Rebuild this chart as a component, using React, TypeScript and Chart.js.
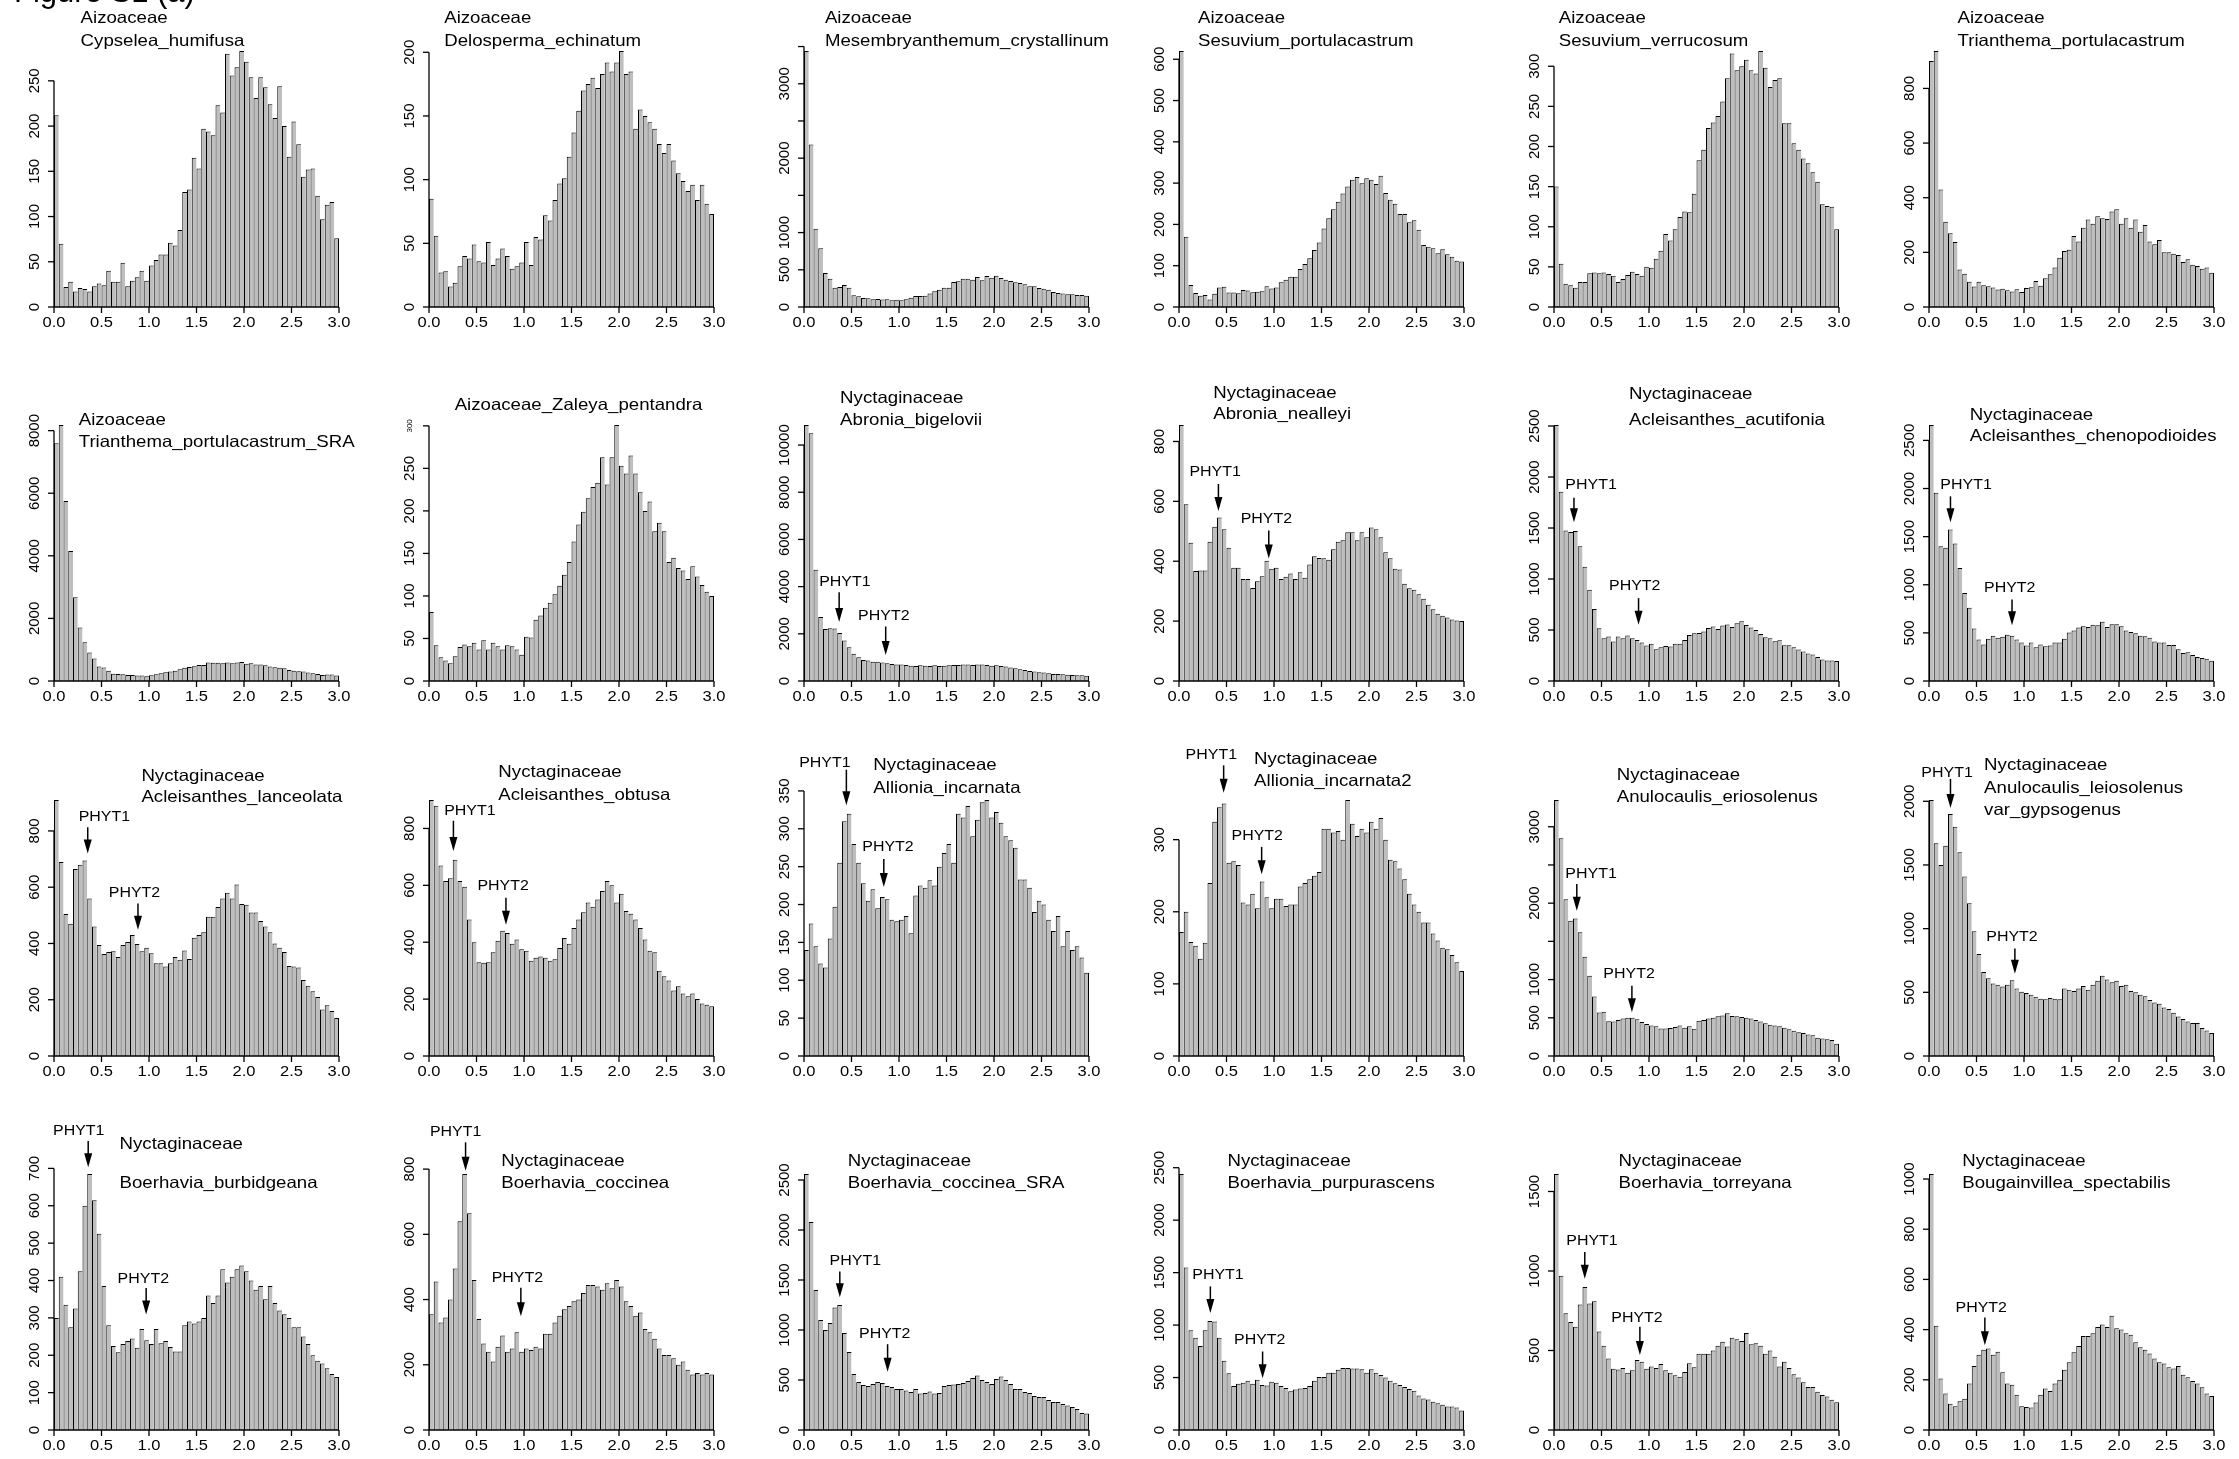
import React, { useEffect, useRef } from "react";
import { Chart, registerables } from "chart.js";

Chart.register(...registerables);

// ---------------- categories / ticks ----------------
const binCenters = Array.from({ length: 60 }, (_, i) => Math.round((i * 0.05 + 0.025) * 1000) / 1000);
const xTickValues = [0, 0.5, 1, 1.5, 2, 2.5, 3];
const xTickLabels = ["0.0", "0.5", "1.0", "1.5", "2.0", "2.5", "3.0"];

// ---------------- series values (counts per bin) ----------------
const cypseleaHumifusa = [212,70,22,28,17,21,20,17,23,26, 24,40,28,28,49,23,29,33,40,29, 46,52,58,58,71,68,85,127,130,165, 153,197,194,190,223,215,280,256,265,283, 271,254,231,254,243,224,209,244,200,166, 205,180,144,152,153,123,97,113,116,76];
const delospermaEchinatum = [85,56,27,28,16,19,32,40,38,49, 36,35,51,33,38,46,40,30,32,35, 51,33,55,53,72,68,84,97,101,118, 137,154,170,175,180,172,183,192,185,192, 201,183,185,140,155,150,145,140,128,121, 128,115,105,99,91,96,84,96,81,73];
const mesembryanthemumCrystallinum = [3440,2185,1050,790,457,380,260,270,295,260, 157,143,120,116,103,107,100,103,90,98, 90,103,125,148,148,152,180,210,233,260, 260,336,345,380,380,367,403,358,416,394, 420,390,367,350,331,322,305,278,278,255, 246,233,202,188,180,170,170,161,161,152];
const sesuviumPortulacastrum = [620,170,53,34,27,29,18,32,47,49, 35,35,33,41,40,36,37,38,50,45, 47,60,66,73,73,92,104,118,138,156, 190,215,237,255,275,292,308,315,300,312, 308,298,318,276,260,250,225,225,205,210, 187,150,146,142,130,140,128,122,112,110];
const sesuviumVerrucosum = [150,54,29,27,24,31,31,42,43,42, 43,41,39,31,35,40,44,41,39,50, 49,60,70,91,83,97,112,119,118,141, 183,196,223,230,238,256,285,316,295,300, 308,295,291,319,298,274,283,285,229,229, 204,196,185,179,168,156,128,126,125,97];
const trianthemaPortulacastrum = [900,937,430,312,270,238,137,122,92,75, 92,80,76,71,64,67,61,57,65,55, 70,72,95,78,105,120,145,180,205,210, 260,240,290,320,305,332,325,322,350,358, 305,325,290,320,275,300,240,230,245,200, 200,195,190,165,175,155,150,140,145,125];
const trianthemaSRA = [7600,8180,5750,4150,2680,1710,1240,910,720,460, 430,330,235,225,215,195,195,175,175,150, 180,215,245,280,300,330,375,420,450,470, 515,515,590,580,580,570,590,570,590,610, 550,570,525,525,505,460,440,420,410,355, 330,310,300,270,245,225,195,205,205,175];
const zaleyaPentandra = [81,42,28,24,21,29,40,43,41,45, 37,48,37,45,41,37,42,41,37,31, 52,51,72,77,86,92,102,112,125,140, 164,184,199,215,228,233,263,231,263,301, 253,244,265,244,222,200,211,176,186,176, 140,145,133,130,120,135,123,113,105,100];
const abroniaBigelovii = [10850,10500,4720,2710,2200,2240,2230,2030,1720,1430, 1150,1010,895,865,820,820,780,750,720,695, 695,680,650,640,665,650,640,665,640,650, 665,680,680,695,695,680,695,695,680,650, 665,640,610,570,540,495,470,425,400,370, 355,325,300,300,285,270,255,240,240,225];
const abroniaNealleyi = [855,590,462,367,369,369,465,515,546,507, 445,378,378,341,341,311,333,350,402,375, 378,341,348,359,341,363,345,389,417,411, 410,405,440,465,470,497,497,470,497,480, 513,507,480,430,410,375,372,325,310,305, 290,275,255,240,225,218,212,205,202,200];
const acleisanthesAcutifonia = [2510,1855,1475,1460,1470,1320,1120,895,705,518, 420,436,387,436,420,446,420,403,377,348, 364,311,331,344,338,364,364,403,452,469, 470,485,520,535,510,545,555,530,565,585, 550,525,500,460,430,420,390,400,350,350, 330,310,290,270,260,235,210,200,200,195];
const acleisanthesChenopodioides = [2660,1955,1400,1385,1575,1430,1175,915,760,545, 430,380,440,470,450,460,480,470,430,400, 370,400,350,380,360,370,400,400,440,505, 525,555,570,560,585,580,615,560,590,590, 570,525,510,495,470,465,450,410,400,400, 375,375,330,290,300,270,250,240,230,210];
const acleisanthesLanceolata = [910,690,505,470,665,680,695,560,460,395, 363,370,372,352,395,405,430,398,372,385, 365,330,330,318,330,352,342,375,345,420, 430,440,495,495,530,560,580,560,610,540, 538,510,510,480,460,440,400,385,370,320, 318,315,270,250,230,210,165,180,160,135];
const acleisanthesObtusa = [900,880,670,615,625,690,615,595,480,400, 330,328,330,365,405,440,432,395,410,375, 370,335,345,350,345,335,340,380,415,395, 450,480,505,540,525,550,580,615,600,540, 570,510,500,480,450,410,370,365,300,280, 265,230,245,220,210,220,200,185,180,175];
const alliomiaIncarnata = [140,175,145,122,117,155,197,255,310,320, 280,255,228,205,220,195,210,207,180,178, 180,185,162,212,225,222,232,225,250,268, 280,255,320,315,330,290,312,335,338,315, 322,308,290,285,275,233,233,222,190,205, 200,180,165,185,145,165,140,145,130,110];
const alliomiaIncarnata2 = [172,200,158,153,135,157,240,325,345,350, 268,270,265,213,210,225,205,242,220,205, 218,218,208,210,210,235,240,245,250,255, 315,315,310,312,300,355,322,305,315,310, 325,315,330,300,272,270,260,245,225,210, 200,185,185,170,160,150,148,140,130,118];
const anulocaulisEriosolenus = [3350,2850,2050,1770,1800,1620,1300,1050,780,570, 580,455,450,470,490,500,500,480,445,420, 400,390,360,360,365,380,400,370,390,355, 460,470,490,500,520,530,560,525,520,510, 500,490,470,450,430,410,400,390,370,350, 330,310,300,280,270,240,230,220,210,160];
const anulocaulisLeiosolenus = [2010,1670,1500,1650,1900,1800,1600,1410,1200,980, 800,660,610,570,560,545,560,595,530,505, 495,480,465,450,445,455,450,445,530,520, 510,530,550,520,560,590,630,600,580,590, 550,560,510,500,480,470,440,420,410,380, 370,340,310,290,270,260,260,220,200,180];
const boerhaviaBurbidgeana = [300,410,335,275,325,425,600,685,615,525, 385,280,225,208,230,238,245,220,270,240, 230,270,232,238,222,210,210,280,290,285, 290,300,360,340,360,430,395,410,430,440, 425,400,375,385,350,385,340,320,310,300, 275,275,250,230,200,185,178,165,150,142];
const boerhaviaCoccinea = [355,455,330,345,400,495,640,785,665,460, 340,265,240,210,255,290,240,250,300,240, 250,245,255,250,295,295,330,350,370,380, 395,400,420,445,445,440,430,450,435,460, 440,395,380,350,360,310,300,280,250,230, 230,220,200,210,185,170,175,170,175,170];
const boerhaviaCoccineaSRA = [2560,2080,1400,1100,1000,1070,1225,1250,970,780, 560,480,450,440,460,480,470,440,430,410, 410,395,380,410,365,370,385,365,370,440, 450,455,460,470,490,520,545,500,480,460, 510,535,500,460,410,410,380,370,340,330, 330,300,280,280,260,245,230,210,170,165];
const boerhaviaPurpurascens = [2440,1550,950,880,800,950,1040,1035,880,660, 540,420,440,450,470,440,480,430,425,460, 450,420,400,370,385,395,400,420,470,505, 505,545,545,575,590,590,585,585,580,545, 580,545,525,500,470,445,430,410,390,375, 330,300,290,270,255,240,225,225,215,185];
const boerhaviaTorreyana = [1610,970,735,680,650,790,900,795,810,620, 530,450,385,380,390,360,375,440,430,385, 400,390,415,375,360,345,335,365,420,395, 480,480,480,500,530,555,525,580,570,560, 610,540,545,530,480,500,460,400,430,390, 350,330,300,270,270,240,220,210,190,175];
const bougainvilleaSpectabilis = [1020,415,205,145,105,95,115,125,185,255, 300,320,325,300,312,230,185,180,140,95, 92,90,110,140,165,155,185,200,240,270, 310,335,375,375,385,410,420,410,455,405, 400,385,380,350,330,320,305,285,270,265, 250,245,255,220,210,195,185,170,145,135];

// ---------------- panel titles, counts and y tick steps ----------------
const panels = [
  { lines: ["Aizoaceae", "Cypselea_humifusa"], counts: cypseleaHumifusa, step: 50 },
  { lines: ["Aizoaceae", "Delosperma_echinatum"], counts: delospermaEchinatum, step: 50 },
  { lines: ["Aizoaceae", "Mesembryanthemum_crystallinum"], counts: mesembryanthemumCrystallinum, step: 500 },
  { lines: ["Aizoaceae", "Sesuvium_portulacastrum"], counts: sesuviumPortulacastrum, step: 100 },
  { lines: ["Aizoaceae", "Sesuvium_verrucosum"], counts: sesuviumVerrucosum, step: 50 },
  { lines: ["Aizoaceae", "Trianthema_portulacastrum"], counts: trianthemaPortulacastrum, step: 200 },
  { lines: ["Aizoaceae", "Trianthema_portulacastrum_SRA"], counts: trianthemaSRA, step: 2000 },
  { lines: ["Aizoaceae_Zaleya_pentandra"], counts: zaleyaPentandra, step: 50, smallLabels: [300] },
  { lines: ["Nyctaginaceae", "Abronia_bigelovii"], counts: abroniaBigelovii, step: 2000 },
  { lines: ["Nyctaginaceae", "Abronia_nealleyi"], counts: abroniaNealleyi, step: 200 },
  { lines: ["Nyctaginaceae", "Acleisanthes_acutifonia"], counts: acleisanthesAcutifonia, step: 500 },
  { lines: ["Nyctaginaceae", "Acleisanthes_chenopodioides"], counts: acleisanthesChenopodioides, step: 500 },
  { lines: ["Nyctaginaceae", "Acleisanthes_lanceolata"], counts: acleisanthesLanceolata, step: 200 },
  { lines: ["Nyctaginaceae", "Acleisanthes_obtusa"], counts: acleisanthesObtusa, step: 200 },
  { lines: ["Nyctaginaceae", "Allionia_incarnata"], counts: alliomiaIncarnata, step: 50 },
  { lines: ["Nyctaginaceae", "Allionia_incarnata2"], counts: alliomiaIncarnata2, step: 100 },
  { lines: ["Nyctaginaceae", "Anulocaulis_eriosolenus"], counts: anulocaulisEriosolenus, step: 500 },
  { lines: ["Nyctaginaceae", "Anulocaulis_leiosolenus", "var_gypsogenus"], counts: anulocaulisLeiosolenus, step: 500 },
  { lines: ["Nyctaginaceae", "Boerhavia_burbidgeana"], counts: boerhaviaBurbidgeana, step: 100 },
  { lines: ["Nyctaginaceae", "Boerhavia_coccinea"], counts: boerhaviaCoccinea, step: 200 },
  { lines: ["Nyctaginaceae", "Boerhavia_coccinea_SRA"], counts: boerhaviaCoccineaSRA, step: 500 },
  { lines: ["Nyctaginaceae", "Boerhavia_purpurascens"], counts: boerhaviaPurpurascens, step: 500 },
  { lines: ["Nyctaginaceae", "Boerhavia_torreyana"], counts: boerhaviaTorreyana, step: 500 },
  { lines: ["Nyctaginaceae", "Bougainvillea_spectabilis"], counts: bougainvilleaSpectabilis, step: 200 },
];

// ---------------- annotation placement (data coords) ----------------
// lx,ly: label centre; ax: arrow x; y1 -> y2: arrow from/to (count units)
const arrowNotes: Record<number, { t: string; lx: number; ly: number; ax: number; y1: number; y2: number }[]> = {
  8: [{ t: "PHYT1", lx: 0.43, ly: 4180, ax: 0.37, y1: 3760, y2: 2500 }, { t: "PHYT2", lx: 0.84, ly: 2765, ax: 0.86, y1: 2310, y2: 1106 }],
  9: [{ t: "PHYT1", lx: 0.38, ly: 697, ax: 0.415, y1: 658, y2: 568 }, { t: "PHYT2", lx: 0.92, ly: 540, ax: 0.945, y1: 503, y2: 409 }],
  10: [{ t: "PHYT1", lx: 0.39, ly: 1918, ax: 0.21, y1: 1797, y2: 1557 }, { t: "PHYT2", lx: 0.85, ly: 928, ax: 0.89, y1: 813, y2: 551 }],
  11: [{ t: "PHYT1", lx: 0.39, ly: 2041, ax: 0.226, y1: 1919, y2: 1650 }, { t: "PHYT2", lx: 0.85, ly: 970, ax: 0.874, y1: 848, y2: 579 }],
  12: [{ t: "PHYT1", lx: 0.53, ly: 849, ax: 0.355, y1: 813, y2: 720 }, { t: "PHYT2", lx: 0.847, ly: 580, ax: 0.884, y1: 542, y2: 449 }],
  13: [{ t: "PHYT1", lx: 0.43, ly: 863, ax: 0.257, y1: 827, y2: 721 }, { t: "PHYT2", lx: 0.78, ly: 597, ax: 0.81, y1: 556, y2: 461 }],
  14: [{ t: "PHYT1", lx: 0.22, ly: 387, ax: 0.446, y1: 378, y2: 331 }, { t: "PHYT2", lx: 0.884, ly: 276, ax: 0.84, y1: 260, y2: 223 }],
  15: [{ t: "PHYT1", lx: 0.34, ly: 418, ax: 0.47, y1: 403, y2: 365 }, { t: "PHYT2", lx: 0.824, ly: 305, ax: 0.87, y1: 290, y2: 252 }],
  16: [{ t: "PHYT1", lx: 0.39, ly: 2381, ax: 0.24, y1: 2250, y2: 1901 }, { t: "PHYT2", lx: 0.79, ly: 1073, ax: 0.82, y1: 920, y2: 571 }],
  17: [{ t: "PHYT1", lx: 0.19, ly: 2223, ax: 0.226, y1: 2176, y2: 1947 }, { t: "PHYT2", lx: 0.874, ly: 935, ax: 0.904, y1: 844, y2: 646 }],
  18: [{ t: "PHYT1", lx: 0.26, ly: 801, ax: 0.36, y1: 773, y2: 703 }, { t: "PHYT2", lx: 0.94, ly: 405, ax: 0.97, y1: 380, y2: 309 }],
  19: [{ t: "PHYT1", lx: 0.28, ly: 913, ax: 0.385, y1: 882, y2: 795 }, { t: "PHYT2", lx: 0.93, ly: 467, ax: 0.967, y1: 436, y2: 349 }],
  20: [{ t: "PHYT1", lx: 0.54, ly: 1693, ax: 0.377, y1: 1586, y2: 1327 }, { t: "PHYT2", lx: 0.85, ly: 961, ax: 0.88, y1: 858, y2: 583 }],
  21: [{ t: "PHYT1", lx: 0.41, ly: 1475, ax: 0.33, y1: 1369, y2: 1115 }, { t: "PHYT2", lx: 0.85, ly: 860, ax: 0.88, y1: 748, y2: 494 }],
  22: [{ t: "PHYT1", lx: 0.40, ly: 1186, ax: 0.324, y1: 1119, y2: 952 }, { t: "PHYT2", lx: 0.874, ly: 705, ax: 0.904, y1: 649, y2: 471 }],
  23: [{ t: "PHYT2", lx: 0.55, ly: 487, ax: 0.588, y1: 448, y2: 338 }],
};

// ---------------- layout / style ----------------
// title: x (data units) of left edge, first baseline px above plot top, line gap px
const titleLayout = [
  { x: 0.28, y: 28.4, gap: 23 }, { x: 0.16, y: 28.4, gap: 23 }, { x: 0.22, y: 28.4, gap: 23 },
  { x: 0.2, y: 28.4, gap: 23 }, { x: 0.05, y: 28.4, gap: 23 }, { x: 0.3, y: 28.4, gap: 23 },
  { x: 0.26, y: 0, gap: 22 }, { x: 0.27, y: 15.4, gap: 22 }, { x: 0.38, y: 22.1, gap: 22 },
  { x: 0.36, y: 27.1, gap: 21 }, { x: 0.79, y: 26.1, gap: 25.7 }, { x: 0.43, y: 5.4, gap: 21.7 },
  { x: 0.92, y: 19, gap: 21 }, { x: 0.73, y: 23, gap: 23 }, { x: 0.73, y: 29.7, gap: 22.7 },
  { x: 0.79, y: 36.4, gap: 22.7 }, { x: 0.66, y: 20.4, gap: 22.4 }, { x: 0.58, y: 29.7, gap: 22.5 },
  { x: 0.69, y: 25.1, gap: 39 }, { x: 0.76, y: 8.4, gap: 22.3 }, { x: 0.46, y: 8.4, gap: 22.3 },
  { x: 0.51, y: 8.4, gap: 22.3 }, { x: 0.68, y: 8.4, gap: 22.3 }, { x: 0.35, y: 8.4, gap: 22.3 },
];

const CANVAS_W = 375;
const CANVAS_H = 374;
const ROW_PITCH = 374.4;
const PAD = { left: 54, top: 51, right: 36, bottom: 67 };
const FONT = '"Liberation Sans", Arial, Helvetica, sans-serif';
const BAR_FILL = "#bebebe";
const STRETCH = 1.1;

function stretchedText(ctx: CanvasRenderingContext2D, text: string, x: number, y: number, sx: number) {
  ctx.save();
  ctx.translate(x, y);
  ctx.scale(sx, 1);
  ctx.fillText(text, 0, 0);
  ctx.restore();
}

function drawDecor(chart: any, idx: number, ymax: number) {
  const p: any = panels[idx];
  const title = titleLayout[idx];
  const notes = arrowNotes[idx] || [];
  const ctx: CanvasRenderingContext2D = chart.ctx;
  const xs = chart.scales.x;
  const ys = chart.scales.y;
  const y0 = ys.getPixelForValue(0);
  const xL = xs.getPixelForValue(0);
  const xR = xs.getPixelForValue(3);
  ctx.save();
  ctx.strokeStyle = "#000";
  ctx.fillStyle = "#000";
  ctx.lineWidth = 1.3;

  // x axis
  ctx.beginPath();
  ctx.moveTo(xL, y0);
  ctx.lineTo(xR, y0);
  ctx.stroke();
  ctx.font = `15px ${FONT}`;
  ctx.textAlign = "center";
  ctx.textBaseline = "middle";
  xTickValues.forEach((v, i) => {
    const px = xs.getPixelForValue(v);
    ctx.beginPath();
    ctx.moveTo(px, y0);
    ctx.lineTo(px, y0 + 6);
    ctx.stroke();
    stretchedText(ctx, xTickLabels[i], px, y0 + 16, STRETCH);
  });

  // y axis (R style: ticks up to 4% above the maximum)
  const ticks: number[] = [];
  for (let v = 0; v <= ymax * 1.04 + 1e-9; v += p.step) ticks.push(v);
  const topTick = ticks[ticks.length - 1];
  ctx.beginPath();
  ctx.moveTo(xL, y0);
  ctx.lineTo(xL, ys.getPixelForValue(topTick));
  ctx.stroke();
  let lastEnd: number | null = null;
  ticks.forEach((v) => {
    const py = ys.getPixelForValue(v);
    ctx.beginPath();
    ctx.moveTo(xL - 6, py);
    ctx.lineTo(xL, py);
    ctx.stroke();
    const small = p.smallLabels && p.smallLabels.includes(v);
    ctx.font = small ? `8px ${FONT}` : `15px ${FONT}`;
    const label = String(v);
    const half = ctx.measureText(label).width / 2;
    const pos = y0 - py;
    if (lastEnd === null || pos - half - lastEnd >= 6) {
      ctx.save();
      ctx.translate(xL - 19, py);
      ctx.rotate(-Math.PI / 2);
      ctx.textAlign = "center";
      ctx.textBaseline = "middle";
      ctx.fillText(label, 0, 0);
      ctx.restore();
      lastEnd = pos + half;
    }
  });

  // titles
  ctx.font = `16.5px ${FONT}`;
  ctx.textAlign = "left";
  ctx.textBaseline = "alphabetic";
  const top = chart.chartArea.top;
  p.lines.forEach((line: string, i: number) => {
    stretchedText(ctx, line, xs.getPixelForValue(title.x), top - title.y + i * title.gap, 1.13);
  });

  // PHYT arrows
  ctx.font = `14.5px ${FONT}`;
  ctx.textAlign = "center";
  ctx.textBaseline = "middle";
  ctx.lineWidth = 1.5;
  notes.forEach((a) => {
    stretchedText(ctx, a.t, xs.getPixelForValue(a.lx), ys.getPixelForValue(a.ly), STRETCH);
    const ax = xs.getPixelForValue(a.ax);
    const ya = ys.getPixelForValue(a.y1);
    const yb = ys.getPixelForValue(a.y2);
    ctx.beginPath();
    ctx.moveTo(ax, ya);
    ctx.lineTo(ax, yb - 8);
    ctx.stroke();
    ctx.beginPath();
    ctx.moveTo(ax, yb);
    ctx.lineTo(ax - 4, yb - 14);
    ctx.lineTo(ax + 4, yb - 14);
    ctx.closePath();
    ctx.fill();
  });
  ctx.restore();
}

function Panel({ idx }: { idx: number }) {
  const ref = useRef<HTMLCanvasElement>(null);
  useEffect(() => {
    const p = panels[idx];
    const ymax = Math.max(...p.counts);
    const n = p.counts.length;
    const plugin = {
      id: "rDecor" + idx,
      afterDatasetsDraw(chart: any) {
        drawDecor(chart, idx, ymax);
      },
    };
    const chart = new Chart(ref.current as HTMLCanvasElement, {
      type: "bar",
      data: {
        datasets: [
          {
            data: p.counts.map((v, i) => ({ x: binCenters[i], y: v })),
            backgroundColor: BAR_FILL,
            borderColor: "#000",
            borderWidth: (c: any) => ({ top: 1, left: 1, bottom: 0, right: c.dataIndex === n - 1 ? 1 : 0 }),
            borderSkipped: false,
            barPercentage: 1,
            categoryPercentage: 1,
            inflateAmount: 0,
          } as any,
        ],
      },
      options: {
        animation: false,
        responsive: false,
        maintainAspectRatio: false,
        devicePixelRatio: 1,
        events: [],
        layout: { padding: PAD },
        plugins: { legend: { display: false }, tooltip: { enabled: false }, title: { display: false } },
        scales: {
          x: { type: "linear", min: 0, max: 3, offset: false, display: false, ticks: { stepSize: 0.5 } },
          y: { type: "linear", min: 0, max: ymax, display: false },
        },
      } as any,
      plugins: [plugin],
    });
    return () => chart.destroy();
  }, [idx]);
  const col = idx % 6;
  const row = Math.floor(idx / 6);
  return (
    <canvas
      ref={ref}
      width={CANVAS_W}
      height={CANVAS_H}
      style={{ position: "absolute", left: col * CANVAS_W, top: Math.round(row * ROW_PITCH), width: CANVAS_W, height: CANVAS_H }}
    />
  );
}

function FigureLabel() {
  const ref = useRef<HTMLCanvasElement>(null);
  useEffect(() => {
    const c = ref.current as HTMLCanvasElement;
    const ctx = c.getContext("2d") as CanvasRenderingContext2D;
    ctx.clearRect(0, 0, c.width, c.height);
    ctx.fillStyle = "#000";
    ctx.font = `31px ${FONT}`;
    ctx.textBaseline = "alphabetic";
    ctx.fillText("Figure S1 (a)", 14, 1.5);
  }, []);
  return <canvas ref={ref} width={320} height={14} style={{ position: "absolute", left: 0, top: 0 }} />;
}

export default function App() {
  return (
    <div style={{ position: "absolute", left: 0, top: 0, width: 2239, height: 1459, background: "#fff", overflow: "hidden" }}>
      {panels.map((_, i) => (
        <Panel key={i} idx={i} />
      ))}
      <FigureLabel />
    </div>
  );
}
